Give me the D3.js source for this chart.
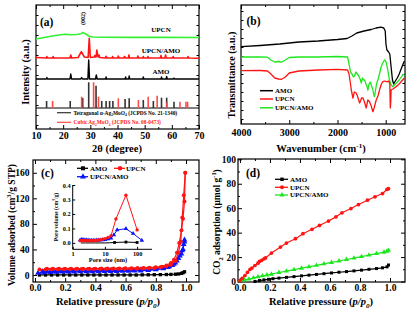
<!DOCTYPE html>
<html><head><meta charset="utf-8">
<script src="https://cdn.jsdelivr.net/npm/d3@7"></script>
<style>
body{margin:0;background:#fff}
svg{display:block}
text{font-family:"Liberation Serif","Times New Roman",serif;font-weight:bold;fill:#000}
</style>
</head><body>
<svg id="fig" width="414" height="310"></svg>
<script>
// ---------- DATA ----------
// (a) XRD patterns [2theta, intensity a.u.]
const xrdUPCN = [[10,90],[13,91.5],[16,93],[19,94.3],[21,94.7],[23,94.3],[25,94.5],[26.5,95.3],[27.4,96.4],[28.3,95],[29.5,92.8],[31,92],[35,91.7],[45,91.6],[55,91.6],[70,91.5]];
const xrdComposite = [[10,71.5],[13.8,71],[14,72.5],[14.2,71],[16.1,71],[16.3,72.5],[16.5,71],[22.5,71],[22.8,74],[23.1,71],[25.5,71.5],[26.7,77.3],[27.8,72],[29.2,71.5],[29.6,90.7],[30,71.5],[31.4,72],[31.6,73.5],[31.8,72],[32.1,72],[32.4,79],[32.8,72],[33.2,74],[33.5,71.5],[35.6,71],[35.8,72.8],[36,71],[38,71],[38.2,72.5],[38.4,71],[40.1,71],[40.3,73],[40.5,71],[42.3,71],[42.6,72.5],[42.9,71],[44,71],[44.2,74],[44.4,71],[47.3,71],[47.5,73],[47.7,71],[49.3,71],[49.5,72.5],[49.7,71],[51,71],[51.2,72.5],[51.4,71],[55.8,71],[56,73.5],[56.2,71],[57.5,71],[57.7,74],[57.9,71],[60.3,71],[60.5,72.5],[60.7,71],[65.8,71],[66,72.5],[66.2,71],[70,70.8]];
const xrdAMO = [[10,50],[13.8,50],[14,51.5],[14.2,50],[22.5,50],[22.8,55],[23.1,50],[26.5,50],[26.8,51.5],[27.1,50],[29.1,50],[29.4,69],[29.7,50],[31.9,50],[32.2,54],[32.5,50],[35.6,50],[35.8,52],[36,50],[42.8,50],[43,52],[43.2,50],[44.1,50],[44.3,53],[44.5,50],[49.3,50],[49.5,52],[49.7,50],[56,50],[56.2,52],[56.4,50],[57.9,50],[58.1,52.5],[58.3,50],[60.6,50],[60.8,51],[61,50],[70,50]];
const refTetragonal = [[13.9,28],[22.6,28],[27.2,31],[29.4,46.7],[32.1,43.3],[34.2,28],[35.8,28],[37.1,28],[38.3,28],[42.8,30],[44.3,30.7],[49.5,29],[53.2,28],[56.2,31.3],[58.1,31.3],[60.8,27.3]];
const refCubic = [[16.1,28],[26.8,32.3],[31.2,46.7],[33.0,32.3],[40.3,30.7],[47.7,29],[51.3,32.3],[54.6,33.3],[58.2,26.7],[63.0,27.3],[65.2,27.3],[65.8,27.3]];
const refBase = 21;
const xrdTicks = [10,20,30,40,50,60,70];

// (b) FTIR [wavenumber, transmittance a.u.]
const ftirAMO = [[4000,77.3],[3600,78.5],[3200,80],[2800,82],[2400,83],[2000,84.5],[1800,85.5],[1700,88],[1600,91],[1450,93],[1300,94.5],[1200,96],[1100,96.8],[1040,96],[1010,93],[995,80],[975,74],[940,72],[915,70],[890,58],[860,44],[835,40],[800,43],[760,46],[720,50],[680,55],[640,60],[612,63]];
const ftirUPCN = [[4000,53.3],[3600,53.5],[3450,53],[3380,50],[3300,46],[3220,45],[3160,44.7],[3080,47],[3000,51],[2800,53],[2400,54],[2000,54.7],[1790,54],[1760,50],[1730,40],[1713,34],[1680,26],[1650,32],[1610,31],[1580,27],[1540,21],[1500,26],[1472,26],[1440,22],[1404,16],[1370,24],[1335,22.3],[1300,18],[1266,12.3],[1240,16],[1197,24],[1160,28],[1128,34],[1090,40],[1060,42.3],[1020,43],[991,42.3],[950,42.5],[935,43],[915,40],[905,16],[895,22],[888,34],[850,35],[785,37.3],[720,40],[650,44],[612,46]];
const ftirComposite = [[4000,67],[3600,67],[3450,66.8],[3380,64],[3300,62],[3220,62.5],[3160,61.8],[3080,64],[3000,66.5],[2800,67],[2400,67],[2000,67.5],[1790,67],[1760,60],[1730,52],[1700,50],[1670,47],[1645,48],[1620,52],[1590,50],[1560,48],[1530,45],[1507,41],[1480,46],[1460,44],[1438,44],[1410,40],[1390,38],[1370,34],[1345,40],[1320,42],[1300,39],[1270,35],[1250,30],[1232,27.3],[1210,34],[1190,40],[1163,44],[1130,50],[1094,57.3],[1060,61],[1025,64],[1000,63],[977,59],[950,52],[930,46],[921,44],[900,40],[870,38],[853,37.3],[820,39],[785,40.7],[720,44],[647,49],[612,50]];
const ftirTicks = [4000,3000,2000,1000];

// (c) N2 isotherms [p/p0, volume cm3/g STP]
const n2AMO = [[0.03,0],[0.07,0],[0.11,0],[0.15,0],[0.19,0],[0.23,0],[0.27,0],[0.31,0],[0.35,0],[0.39,0],[0.43,0],[0.47,0],[0.51,0],[0.55,0],[0.59,0],[0.63,0],[0.67,0],[0.71,0.2],[0.75,0.3],[0.79,0.4],[0.83,0.5],[0.87,0.7],[0.9,0.9],[0.93,1.2],[0.95,1.6],[0.97,2.5],[0.98,3.5],[0.99,5]];
const n2UPCNads = [[0.03,8.5],[0.07,8.8],[0.11,9],[0.15,9],[0.19,9.1],[0.23,9.2],[0.27,9.2],[0.31,9.3],[0.35,9.3],[0.39,9.4],[0.43,9.5],[0.47,9.5],[0.51,9.6],[0.55,9.7],[0.59,9.8],[0.63,9.9],[0.67,10],[0.71,10.3],[0.75,10.6],[0.79,11],[0.83,12],[0.87,13.5],[0.9,16],[0.93,22],[0.95,35],[0.965,52],[0.975,90],[0.985,125],[0.995,160]];
const n2UPCNdes = [[0.995,160],[0.99,115],[0.98,88],[0.97,70],[0.955,50],[0.94,35],[0.92,24],[0.9,19],[0.87,15],[0.84,13],[0.8,12],[0.76,11.5],[0.72,11],[0.68,10.8],[0.64,10.6],[0.6,10.5],[0.56,10.4],[0.52,10.3],[0.48,10.2],[0.44,10.1],[0.4,10],[0.36,10],[0.32,10],[0.28,10],[0.24,10],[0.2,10],[0.16,10],[0.12,10],[0.08,10]];
const n2MixAds = [[0.02,3],[0.06,3.8],[0.1,4.2],[0.14,4.5],[0.18,4.7],[0.22,4.9],[0.26,5],[0.3,5.1],[0.34,5.2],[0.38,5.3],[0.42,5.4],[0.46,5.5],[0.5,5.6],[0.54,5.7],[0.58,5.9],[0.62,6.1],[0.66,6.3],[0.7,6.6],[0.75,7.2],[0.8,8.5],[0.85,10],[0.88,12],[0.91,15],[0.93,19],[0.95,26],[0.97,33],[0.98,40],[0.99,52]];
const n2MixDes = [[0.99,55],[0.985,48],[0.975,38],[0.96,30],[0.94,22],[0.92,17],[0.89,13],[0.85,11],[0.8,9.5],[0.75,8.5],[0.7,8],[0.65,7.7],[0.6,7.5],[0.55,7.2],[0.5,7],[0.45,6.9],[0.4,6.8],[0.35,6.6],[0.3,6.5],[0.25,6.3],[0.2,6.2],[0.16,6.1],[0.12,6],[0.08,5.7],[0.05,5.5]];
const n2Ticks = [0,40,80,120,160];
// (c) inset pore size distribution [nm, cm3/g]
const poreAMO = [[1.8,0],[2.5,0],[3.5,0],[5,0],[7,0],[10,0],[14,0.001],[20,0.003],[45,0.006],[100,0.003]];
const poreUPCN = [[1.7,0.015],[1.9,0.018],[2.1,0.018],[2.4,0.017],[2.7,0.016],[3,0.016],[3.4,0.015],[3.8,0.015],[4.3,0.016],[4.9,0.017],[5.6,0.018],[6.4,0.02],[7.4,0.022],[8.6,0.025],[10.2,0.03],[12.5,0.038],[15.5,0.05],[22,0.165],[45,0.33],[100,0.09]];
const poreMix = [[1.7,0.02],[1.9,0.022],[2.1,0.022],[2.4,0.021],[2.7,0.02],[3,0.019],[3.4,0.018],[3.8,0.018],[4.3,0.018],[4.9,0.018],[5.6,0.019],[6.4,0.019],[7.4,0.02],[8.6,0.021],[10.2,0.023],[12.5,0.027],[15.5,0.033],[19,0.055],[24,0.09],[45,0.098],[75,0.065],[140,0.018]];
const poreYTicks = [0.0,0.1,0.2,0.3,0.4];
const poreXTicks = [1,10,100];

// (d) CO2 adsorption [p/p0, umol/g]
const co2UPCN = [[0,0.8],[0.015,2.5],[0.033,4.9],[0.05,7.5],[0.067,9.9],[0.08,11],[0.1,13.1],[0.12,15],[0.13,16.4],[0.145,17.3],[0.16,18.6],[0.17,19.3],[0.21,23.3],[0.27,28.2],[0.31,31.5],[0.37,35],[0.42,39.1],[0.48,42.7],[0.53,45.9],[0.59,49.5],[0.64,52.9],[0.68,56.2],[0.74,59.7],[0.79,63],[0.85,66.5],[0.9,69.3],[0.95,72],[0.98,75.3],[0.99,76]];
const co2Mix = [[0,0.5],[0.03,1.3],[0.06,2],[0.09,3],[0.12,3.8],[0.15,4.6],[0.18,5.3],[0.21,6],[0.26,7.4],[0.31,8.5],[0.36,9.7],[0.41,10.9],[0.46,12],[0.51,13.2],[0.56,14.4],[0.61,15.6],[0.66,16.8],[0.71,18],[0.76,19.2],[0.81,20.4],[0.86,21.6],[0.91,22.8],[0.96,24],[0.98,24.8],[0.99,25.5]];
const co2AMO = [[0.1,0],[0.13,0.8],[0.16,1.3],[0.19,1.8],[0.22,2.3],[0.26,2.8],[0.31,3.4],[0.36,4],[0.41,4.6],[0.46,5.2],[0.51,5.8],[0.56,6.4],[0.61,7],[0.66,7.6],[0.71,8.1],[0.76,8.7],[0.81,9.3],[0.86,10],[0.91,10.6],[0.95,11.2],[0.98,12],[0.99,13.5]];
const co2Ticks = [0,20,40,60,80,100];
const pTicks = [0,0.2,0.4,0.6,0.8,1.0];

const names = ["AMO","UPCN","UPCN/AMO"];

// ---------- STYLE ----------
const BLACK="#000", RED="#ff1414", GREEN="#22e622", BLUE="#0a14ff";
const svg = d3.select("#fig");

function rich(t, parts, fs){
  let shift=0;
  parts.forEach(p=>{
    const [s,k] = Array.isArray(p)?p:[p,""];
    const ts=t.append("tspan").text(s);
    const target = (k==="sub"||k==="isub") ? fs*0.3 : (k==="sup" ? -fs*0.4 : 0);
    ts.attr("dy", target-shift); shift=target;
    if(k==="sub"||k==="sup"||k==="isub") ts.attr("font-size", fs*0.68);
    if(k==="i"||k==="isub") ts.attr("font-style","italic");
  });
  return t;
}

function frame(g, b, x, y, o){
  g.append("rect").attr("x",b.l).attr("y",b.t).attr("width",b.r-b.l).attr("height",b.b-b.t)
    .attr("fill","none").attr("stroke","#000").attr("stroke-width",1.2);
  const clean = s=>s.select(".domain").remove();
  const mk = (axis, pos, tr, vals, size, fmt, pad, fs)=>{
    const a = axis.tickValues(vals).tickSizeInner(size).tickSizeOuter(0).tickPadding(pad||3).tickFormat(fmt||"");
    const s = g.append("g").attr("transform",tr).call(a).call(clean);
    s.selectAll("line").attr("stroke-width",1);
    s.selectAll("text").attr("font-size",fs||10).attr("font-family",'"Liberation Serif",serif').attr("font-weight","bold");
    return s;
  };
  mk(d3.axisBottom(x),"b",`translate(0,${b.b})`,o.xt,-4,o.xf,o.xpad,o.fs);
  if(o.xm) mk(d3.axisBottom(x),"b",`translate(0,${b.b})`,o.xm,-2);
  mk(d3.axisTop(x),"t",`translate(0,${b.t})`,o.xt,-4);
  if(o.xm) mk(d3.axisTop(x),"t",`translate(0,${b.t})`,o.xm,-2);
  mk(d3.axisLeft(y),"l",`translate(${b.l},0)`,o.yt,o.ysize||-4,o.yf,o.ypad,o.fs);
  if(o.ym) mk(d3.axisLeft(y),"l",`translate(${b.l},0)`,o.ym,-2);
  mk(d3.axisRight(y),"r",`translate(${b.r},0)`,o.yt,o.ysize||-4);
  if(o.ym) mk(d3.axisRight(y),"r",`translate(${b.r},0)`,o.ym,-2);
}

function path(g, data, x, y, color, w){
  g.append("path").datum(data).attr("fill","none").attr("stroke",color).attr("stroke-width",w||1.2)
    .attr("stroke-linejoin","round").attr("d",d3.line().x(d=>x(d[0])).y(d=>y(d[1])));
}
function marks(g, data, x, y, color, type, size){
  g.selectAll(null).data(data).enter().append("path")
    .attr("transform",d=>`translate(${x(d[0])},${y(d[1])})`)
    .attr("d",d3.symbol().type(type).size(size)).attr("fill",color);
}

// ---------- PANEL (a) ----------
{
  const b={l:36,r:199,t:5,b:129};
  const x=d3.scaleLinear([10,70],[b.l,b.r]);
  const y=d3.scaleLinear([0,124],[b.b,b.t]);
  const g=svg.append("g");
  frame(g,b,x,y,{xt:xrdTicks,xm:[15,25,35,45,55,65],xf:d3.format("d"),xpad:3,yt:d3.range(4,124,10),ysize:-2.5,yf:""});
  g.append("line").attr("x1",b.l).attr("x2",b.r).attr("y1",y(refBase)).attr("y2",y(refBase)).attr("stroke","#000").attr("stroke-width",1);
  g.selectAll(null).data(refTetragonal).enter().append("line")
    .attr("x1",d=>x(d[0])).attr("x2",d=>x(d[0])).attr("y1",y(refBase)).attr("y2",d=>y(d[1]))
    .attr("stroke","#333").attr("stroke-width",1.6);
  g.selectAll(null).data(refCubic).enter().append("line")
    .attr("x1",d=>x(d[0])).attr("x2",d=>x(d[0])).attr("y1",y(refBase)).attr("y2",d=>y(d[1]))
    .attr("stroke","#ff4a4a").attr("stroke-width",1.6);
  path(g,xrdAMO,x,y,BLACK,1.4);
  path(g,xrdComposite,x,y,RED,1.6);
  path(g,xrdUPCN,x,y,"#33f033",1.6);
  const lab=(t,yy)=>g.append("text").attr("x",161).attr("y",yy).attr("text-anchor","middle").attr("font-size",7).text(t);
  lab("UPCN",32); lab("UPCN/AMO",53); lab("AMO",73.5);
  g.append("text").attr("x",40).attr("y",25.5).attr("font-size",11.5).text("(a)");
  g.append("text").attr("transform","translate(85,18.5) rotate(-90)").attr("text-anchor","middle").attr("font-size",6).text("(002)");
  // reference legend
  g.append("line").attr("x1",57).attr("x2",71).attr("y1",112.7).attr("y2",112.7).attr("stroke","#333").attr("stroke-width",1.2);
  g.append("line").attr("x1",57).attr("x2",71).attr("y1",122.3).attr("y2",122.3).attr("stroke","#ff4a4a").attr("stroke-width",1.2);
  rich(g.append("text").attr("x",73.5).attr("y",114.5).attr("font-size",5.4),["Tetragonal α-Ag",["2","sub"],"MoO",["4","sub"]," (JCPDS No. 21-1340)"],5.4);
  rich(g.append("text").attr("x",73.5).attr("y",124.2).attr("font-size",5.4).style("fill","#ff2020"),["Cubic Ag",["2","sub"],"MoO",["4","sub"]," (JCPDS No. 08-0473)"],5.4);
  g.append("text").attr("transform","translate(28.5,72) rotate(-90)").attr("text-anchor","middle").attr("font-size",10.5).text("Intensity (a.u.)");
  g.append("text").attr("x",117).attr("y",151.5).attr("text-anchor","middle").attr("font-size",10.5).text("2θ (degree)");
}

// ---------- PANEL (b) ----------
{
  const b={l:241,r:405,t:5,b:124};
  const x=d3.scaleLinear([4000,600],[b.l,b.r]);
  const y=d3.scaleLinear([0,119],[b.b,b.t]);
  const g=svg.append("g");
  frame(g,b,x,y,{xt:ftirTicks,xm:[3500,2500,1500,500].filter(v=>v>=600),xf:d3.format("d"),xpad:5,yt:d3.range(5,119,9),ysize:-2.5,yf:""});
  path(g,ftirAMO,x,y,BLACK,1.3);
  path(g,ftirComposite,x,y,"#1ee61e",1.3);
  path(g,ftirUPCN,x,y,RED,1.3);
  const cols=[BLACK,RED,"#1ee61e"], ys=[90.7,99,107.8];
  names.forEach((n,i)=>{
    g.append("line").attr("x1",260).attr("x2",273).attr("y1",ys[i]).attr("y2",ys[i]).attr("stroke",cols[i]).attr("stroke-width",1.5);
    g.append("text").attr("x",275).attr("y",ys[i]+2.4).attr("font-size",7).text(n);
  });
  g.append("text").attr("x",246.5).attr("y",24.5).attr("font-size",11.5).text("(b)");
  g.append("text").attr("transform","translate(234.5,75) rotate(-90)").attr("text-anchor","middle").attr("font-size",10).text("Transmittance (a.u.)");
  rich(g.append("text").attr("x",321).attr("y",152).attr("text-anchor","middle").attr("font-size",10.5),["Wavenumber (cm",["-1","sup"],")"],10.5);
}

// ---------- PANEL (c) ----------
{
  const b={l:33,r:199,t:160,b:282};
  const x=d3.scaleLinear([-0.013,1.086],[b.l,b.r]);
  const y=d3.scaleLinear([-11,180],[b.b,b.t]);
  const g=svg.append("g");
  frame(g,b,x,y,{xt:pTicks,xm:[0.1,0.3,0.5,0.7,0.9],xf:d3.format(".1f"),xpad:2.5,yt:n2Ticks,ym:[20,60,100,140],yf:d3.format("d"),ypad:3.5,fs:9.5});
  path(g,n2AMO,x,y,BLACK);
  marks(g,n2AMO,x,y,BLACK,d3.symbolSquare,11);
  path(g,n2MixAds,x,y,BLUE); path(g,n2MixDes,x,y,BLUE);
  marks(g,n2MixAds.concat(n2MixDes),x,y,BLUE,d3.symbolTriangle,14);
  path(g,n2UPCNads,x,y,RED); path(g,n2UPCNdes,x,y,RED);
  marks(g,n2UPCNads.concat(n2UPCNdes),x,y,RED,d3.symbolCircle,12);
  // legend
  const leg=[[77,88,83,168.3,BLACK,d3.symbolSquare,90,"AMO"],[114,125,120,168.3,RED,d3.symbolCircle,126,"UPCN"],[77,88,83,176.7,BLUE,d3.symbolTriangle,90,"UPCN/AMO"]];
  leg.forEach(l=>{
    g.append("line").attr("x1",l[0]).attr("x2",l[1]).attr("y1",l[3]).attr("y2",l[3]).attr("stroke",l[4]).attr("stroke-width",1.3);
    g.append("path").attr("transform",`translate(${l[2]},${l[3]})`).attr("d",d3.symbol().type(l[5]).size(16)).attr("fill",l[4]);
    g.append("text").attr("x",l[6]).attr("y",l[3]+2.4).attr("font-size",7).text(l[7]);
  });
  g.append("text").attr("x",41).attr("y",177).attr("font-size",11.5).text("(c)");
  rich(g.append("text").attr("transform","translate(15,225) rotate(-90)").attr("text-anchor","middle").attr("font-size",9.5),["Volume adsorbed (cm",["3","sup"],"/g STP)"],9.5);
  rich(g.append("text").attr("x",108).attr("y",305).attr("text-anchor","middle").attr("font-size",10.5),["Relative pressure (",["p/p","i"],["0","isub"],")"],10.5);
  // inset
  const xi=d3.scaleLog([1,290],[72.7,152]);
  const yi=d3.scaleLinear([-0.044,0.4],[249.3,185]);
  const gi=g.append("g");
  gi.append("line").attr("x1",72.7).attr("x2",72.7).attr("y1",185).attr("y2",249.3).attr("stroke","#000").attr("stroke-width",1);
  gi.append("line").attr("x1",72.7).attr("x2",152).attr("y1",249.3).attr("y2",249.3).attr("stroke","#000").attr("stroke-width",1);
  const ya=gi.append("g").attr("transform","translate(72.7,0)").call(d3.axisLeft(yi).tickValues(poreYTicks).tickSizeInner(-2.5).tickSizeOuter(0).tickPadding(2).tickFormat(d3.format(".1f")));
  ya.select(".domain").remove();
  const xa=gi.append("g").attr("transform","translate(0,249.3)").call(d3.axisBottom(xi).tickValues(poreXTicks).tickSizeInner(-2.5).tickSizeOuter(0).tickPadding(2).tickFormat(d3.format("d")));
  xa.select(".domain").remove();
  gi.selectAll("text").attr("font-size",6.3);
  path(gi,poreAMO,xi,yi,BLACK,1);
  marks(gi,poreAMO.filter(d=>d[0]>=20),xi,yi,BLACK,d3.symbolSquare,8);
  path(gi,poreMix,xi,yi,BLUE,1);
  marks(gi,poreMix,xi,yi,BLUE,d3.symbolTriangle,9);
  path(gi,poreUPCN,xi,yi,RED,1);
  marks(gi,poreUPCN,xi,yi,RED,d3.symbolCircle,9);
  rich(gi.append("text").attr("transform","translate(57.5,217) rotate(-90)").attr("text-anchor","middle").attr("font-size",5.6),["Pore volume (cm",["3","sup"],"/g)"],5.6);
  gi.append("text").attr("x",108).attr("y",261.5).attr("text-anchor","middle").attr("font-size",6.3).text("Pore size (nm)");
}

// ---------- PANEL (d) ----------
{
  const b={l:238,r:405,t:159,b:282};
  const x=d3.scaleLinear([-0.013,1.1],[b.l,b.r]);
  const y=d3.scaleLinear([-0.4,100],[b.b,b.t+0.3]);
  const g=svg.append("g");
  frame(g,b,x,y,{xt:pTicks,xm:[0.1,0.3,0.5,0.7,0.9],xf:d3.format(".1f"),xpad:2.5,yt:co2Ticks,ym:[10,30,50,70,90],yf:d3.format("d"),ypad:2,fs:9.5});
  path(g,co2AMO,x,y,BLACK);
  marks(g,co2AMO,x,y,BLACK,d3.symbolSquare,9);
  path(g,co2Mix,x,y,"#1ee61e");
  marks(g,co2Mix,x,y,"#1ee61e",d3.symbolTriangle,11);
  path(g,co2UPCN,x,y,RED);
  marks(g,co2UPCN,x,y,RED,d3.symbolCircle,11);
  const cols=[BLACK,RED,"#1ee61e"], types=[d3.symbolSquare,d3.symbolCircle,d3.symbolTriangle], ys=[179.3,187.3,195];
  names.forEach((n,i)=>{
    g.append("line").attr("x1",275).attr("x2",288).attr("y1",ys[i]).attr("y2",ys[i]).attr("stroke",cols[i]).attr("stroke-width",1.3);
    g.append("path").attr("transform",`translate(282,${ys[i]})`).attr("d",d3.symbol().type(types[i]).size(12)).attr("fill",cols[i]);
    g.append("text").attr("x",290).attr("y",ys[i]+2.4).attr("font-size",7).text(n);
  });
  g.append("text").attr("x",246).attr("y",177).attr("font-size",11.5).text("(d)");
  rich(g.append("text").attr("transform","translate(220,222) rotate(-90)").attr("text-anchor","middle").attr("font-size",9.5),["CO",["2","sub"]," adsorption (μmol g",["-1","sup"],")"],9.5);
  rich(g.append("text").attr("x",321).attr("y",305).attr("text-anchor","middle").attr("font-size",10.5),["Relative pressure (",["p/p","i"],["0","isub"],")"],10.5);
}
</script>
</body></html>
